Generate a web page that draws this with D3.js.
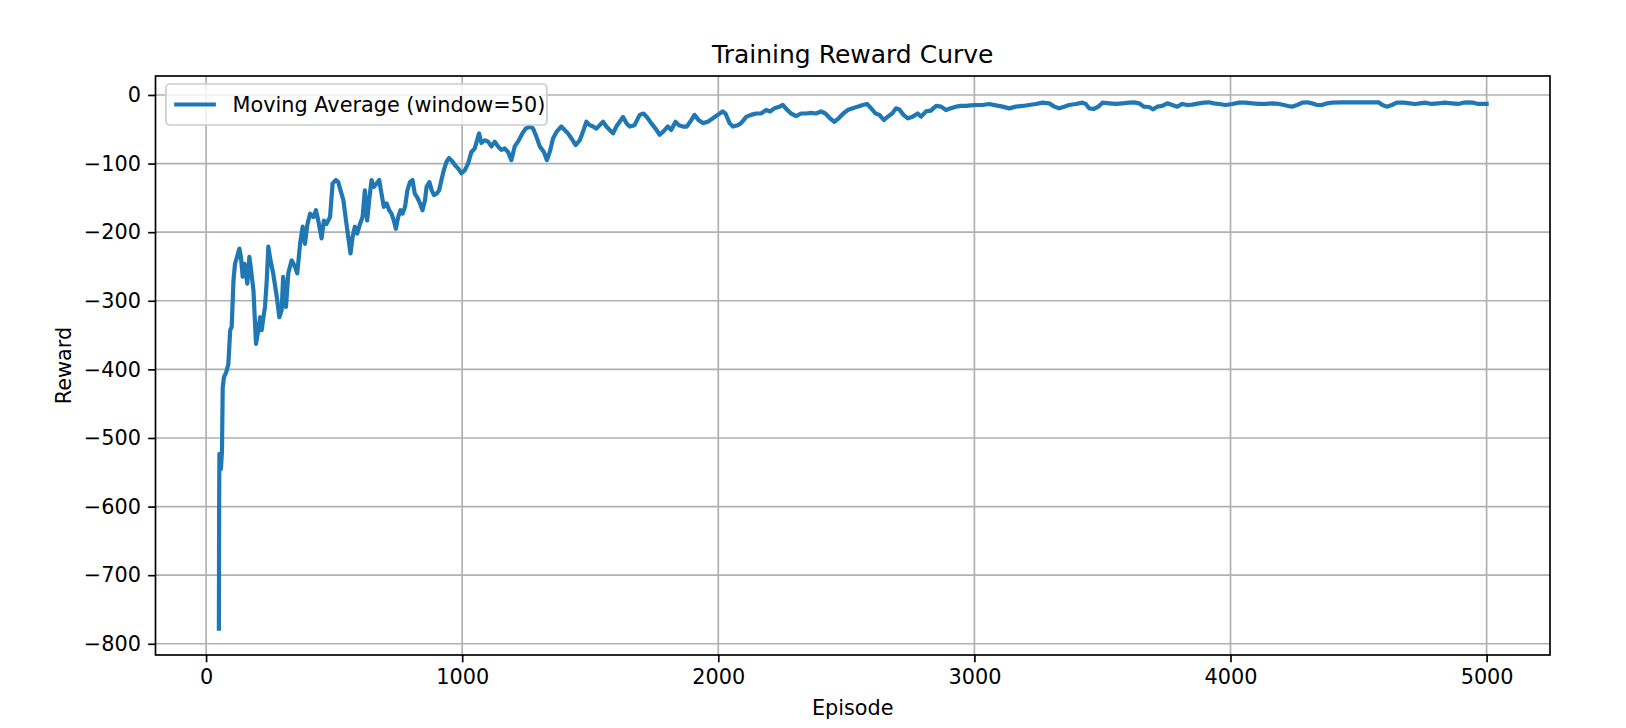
<!DOCTYPE html>
<html>
<head>
<meta charset="utf-8">
<script src="https://cdn.jsdelivr.net/npm/d3@7"></script>
<style>
  body { margin: 0; background: #fff; }
  text { font-family: "DejaVu Sans", sans-serif; fill: #000; }
</style>
</head>
<body>
<div id="chart"></div>
<script>
// moving average (window=50)
const episodes = [
  50, 51, 52, 55, 58, 62, 65, 70, 78, 81, 87, 94, 100, 107, 113, 121, 130, 136, 143, 150,
  161, 169, 174, 185, 195, 204, 211, 217, 224, 230, 237, 243, 250, 262, 276, 286, 295, 301, 312, 321,
  334, 347, 356, 367, 377, 386, 395, 406, 419, 429, 438, 451, 460, 470, 484, 494, 507, 516, 525, 536,
  546, 555, 564, 572, 581, 590, 601, 611, 620, 629, 637, 646, 655, 666, 676, 685, 694, 705, 715, 724,
  733, 741, 750, 759, 767, 777, 786, 796, 806, 815, 824, 835, 845, 855, 861, 872, 881, 890, 900, 910,
  919, 928, 939, 949, 962, 971, 984, 997, 1010, 1023, 1036, 1049, 1058, 1066, 1075, 1088, 1101, 1114, 1127, 1140,
  1153, 1166, 1179, 1192, 1205, 1218, 1235, 1248, 1264, 1277, 1290, 1303, 1319, 1331, 1342, 1355, 1370, 1387, 1400, 1413,
  1426, 1443, 1459, 1474, 1485, 1498, 1511, 1524, 1537, 1550, 1563, 1576, 1589, 1602, 1615, 1628, 1641, 1654, 1673, 1693,
  1708, 1721, 1738, 1755, 1771, 1786, 1803, 1816, 1833, 1846, 1862, 1877, 1894, 1907, 1924, 1940, 1959, 1979, 1998, 2017,
  2028, 2044, 2057, 2076, 2089, 2109, 2128, 2148, 2167, 2187, 2202, 2219, 2239, 2252, 2267, 2284, 2304, 2323, 2343, 2362,
  2382, 2401, 2418, 2436, 2453, 2470, 2488, 2505, 2525, 2544, 2564, 2581, 2597, 2614, 2629, 2646, 2662, 2679, 2694, 2707,
  2723, 2740, 2759, 2779, 2792, 2811, 2830, 2850, 2870, 2889, 2908, 2928, 2947, 2967, 2986, 3006, 3032, 3058, 3084, 3110,
  3136, 3162, 3188, 3214, 3240, 3266, 3292, 3312, 3331, 3351, 3370, 3396, 3422, 3435, 3448, 3467, 3484, 3500, 3526, 3552,
  3578, 3604, 3623, 3643, 3662, 3682, 3698, 3714, 3734, 3753, 3773, 3792, 3812, 3831, 3851, 3877, 3896, 3916, 3935, 3955,
  3981, 4007, 4033, 4059, 4085, 4111, 4137, 4163, 4189, 4208, 4225, 4240, 4260, 4280, 4299, 4318, 4338, 4357, 4377, 4396,
  4435, 4474, 4513, 4552, 4578, 4593, 4610, 4630, 4649, 4675, 4701, 4720, 4740, 4759, 4785, 4811, 4837, 4863, 4889, 4909,
  4928, 4948, 4967, 5000
];
const rewards = [
  -778, -600, -523, -530, -545, -520, -426, -411, -405, -401, -392, -343, -338, -270, -246, -236, -224, -236, -265, -246,
  -275, -236, -250, -285, -363, -343, -324, -343, -324, -309, -270, -221, -238, -260, -294, -324, -314, -265, -309, -260,
  -241, -250, -260, -217, -192, -217, -190, -173, -178, -168, -183, -209, -183, -188, -178, -129, -124, -127, -139, -153,
  -182, -207, -231, -207, -192, -202, -188, -178, -139, -183, -153, -124, -134, -129, -124, -144, -163, -158, -168, -173,
  -183, -195, -178, -168, -173, -163, -139, -127, -124, -144, -149, -158, -168, -153, -134, -127, -139, -146, -144, -139,
  -124, -110, -97, -92, -97, -102, -107, -114, -110, -100, -83, -78, -66, -56, -70, -66, -68, -75, -68, -75,
  -80, -78, -83, -95, -75, -68, -56, -49, -46, -49, -61, -75, -83, -95, -83, -63, -53, -46, -51, -56,
  -63, -73, -66, -51, -39, -44, -46, -49, -44, -39, -46, -51, -56, -46, -39, -32, -41, -46, -44, -29,
  -27, -32, -41, -49, -58, -53, -46, -51, -39, -44, -46, -46, -37, -29, -37, -41, -39, -34, -29, -24,
  -27, -41, -46, -44, -41, -32, -29, -27, -27, -22, -24, -19.5, -17, -14.6, -21, -27, -30.7, -27, -27, -26,
  -27, -24, -27, -34, -39, -34, -27, -22, -19.5, -17, -14.6, -13.1, -19.5, -27, -29, -36.5, -31.6, -27, -19.5, -21,
  -29, -34, -31.6, -27, -31.6, -24, -22.8, -16, -17, -22, -19.5, -17, -16, -16, -15.1, -14.6, -14.6, -13.1, -15.1, -17,
  -19.5, -17, -16, -14.6, -13.1, -11.2, -12.2, -17, -19.5, -17, -14.6, -13.1, -11.2, -13.1, -19.5, -20.4, -17, -11.2, -12.2, -13.1,
  -12.2, -11.2, -10.7, -12.2, -17, -17.5, -20.9, -17, -16, -12.2, -14.6, -17, -13.1, -14.6, -14.1, -12.2, -11.2, -10.7, -12.2, -13.1,
  -14.6, -13.1, -11.2, -11.2, -12.2, -13.1, -13.1, -12.2, -13.1, -14.6, -16, -17, -14.6, -11.2, -10.7, -12.2, -14.6, -14.6, -12.2, -11.2,
  -10.7, -10.7, -10.7, -10.7, -10.7, -14.6, -17, -14.6, -11.2, -11.2, -12.2, -13.1, -12.2, -11.2, -13.1, -12.2, -11.2, -12.2, -13.1, -11.2,
  -10.7, -11.2, -13.1, -13.1
];
const yTicks = [0, -100, -200, -300, -400, -500, -600, -700, -800];
const xTicks = [0, 1000, 2000, 3000, 4000, 5000];
const seriesName = 'Moving Average (window=50)';

const width = 1626, height = 728;
const margin = {left: 155.5, right: 76, top: 76, bottom: 73};
const innerW = width - margin.left - margin.right;
const innerH = height - margin.top - margin.bottom;
const fontPx = 20.8;
const tickLen = 7.3;

const points = episodes.map((e, i) => ({x: e, y: rewards[i]}));

// matplotlib-like 5% margins
function padded(ext)
{
    const pad = (ext[1] - ext[0]) * 0.05;
    return [ext[0] - pad, ext[1] + pad];
}

const x = d3.scaleLinear()
    .domain(padded(d3.extent(episodes)))
    .range([0, innerW]);

const y = d3.scaleLinear()
    .domain(padded(d3.extent(rewards)))
    .range([innerH, 0]);

const svg = d3.select('#chart')
    .append('svg')
    .attr('width', width)
    .attr('height', height);

const g = svg.append('g')
    .attr('transform', `translate(${margin.left},${margin.top})`);

// grid
g.selectAll('.xgrid')
    .data(xTicks)
    .join('line')
    .attr('x1', d => x(d)).attr('x2', d => x(d))
    .attr('y1', 0).attr('y2', innerH)
    .attr('stroke', '#b0b0b0')
    .attr('stroke-width', 1.67);

g.selectAll('.ygrid')
    .data(yTicks)
    .join('line')
    .attr('x1', 0).attr('x2', innerW)
    .attr('y1', d => y(d)).attr('y2', d => y(d))
    .attr('stroke', '#b0b0b0')
    .attr('stroke-width', 1.67);

// line
const line = d3.line()
    .x(d => x(d.x))
    .y(d => y(d.y));

g.append('path')
    .datum(points)
    .attr('d', line)
    .attr('fill', 'none')
    .attr('stroke', '#1f77b4')
    .attr('stroke-width', 4.2)
    .attr('stroke-linejoin', 'round')
    .attr('stroke-linecap', 'square');

// axes
const xAxis = g.append('g')
    .attr('transform', `translate(0,${innerH})`)
    .call(d3.axisBottom(x).tickValues(xTicks).tickFormat(d3.format('d'))
        .tickSize(tickLen).tickPadding(7.3));

const yAxis = g.append('g')
    .call(d3.axisLeft(y).tickValues(yTicks).tickFormat(d3.format('d'))
        .tickSize(tickLen).tickPadding(7.3));

[xAxis, yAxis].forEach(a => {
    a.select('.domain').remove();
    a.selectAll('.tick line').attr('stroke', '#000').attr('stroke-width', 1.67);
    a.selectAll('.tick text')
        .style('font-family', '"DejaVu Sans", sans-serif')
        .style('font-size', fontPx + 'px')
        .attr('fill', '#000');
});

// spines
g.append('rect')
    .attr('x', 0).attr('y', 0)
    .attr('width', innerW).attr('height', innerH)
    .attr('fill', 'none')
    .attr('stroke', '#000')
    .attr('stroke-width', 1.67);

// legend
const legend = g.append('g')
    .attr('transform', 'translate(10.4,8)');

legend.append('rect')
    .attr('width', 381)
    .attr('height', 41)
    .attr('rx', 4)
    .attr('fill', 'rgba(255,255,255,0.8)')
    .attr('stroke', '#cccccc')
    .attr('stroke-width', 1.67);

legend.append('line')
    .attr('x1', 8.3).attr('x2', 50)
    .attr('y1', 20.5).attr('y2', 20.5)
    .attr('stroke', '#1f77b4')
    .attr('stroke-width', 4.2);

legend.append('text')
    .attr('x', 66.7)
    .attr('y', 20.5)
    .attr('dy', '0.36em')
    .style('font-size', fontPx + 'px')
    .text(seriesName);

// title and labels
svg.append('text')
    .attr('x', margin.left + innerW / 2)
    .attr('y', 63)
    .attr('text-anchor', 'middle')
    .style('font-size', '25px')
    .text('Training Reward Curve');

svg.append('text')
    .attr('x', margin.left + innerW / 2)
    .attr('y', 715)
    .attr('text-anchor', 'middle')
    .style('font-size', fontPx + 'px')
    .text('Episode');

svg.append('text')
    .attr('transform', `translate(71,${margin.top + innerH / 2}) rotate(-90)`)
    .attr('text-anchor', 'middle')
    .style('font-size', fontPx + 'px')
    .text('Reward');
</script>
</body>
</html>
